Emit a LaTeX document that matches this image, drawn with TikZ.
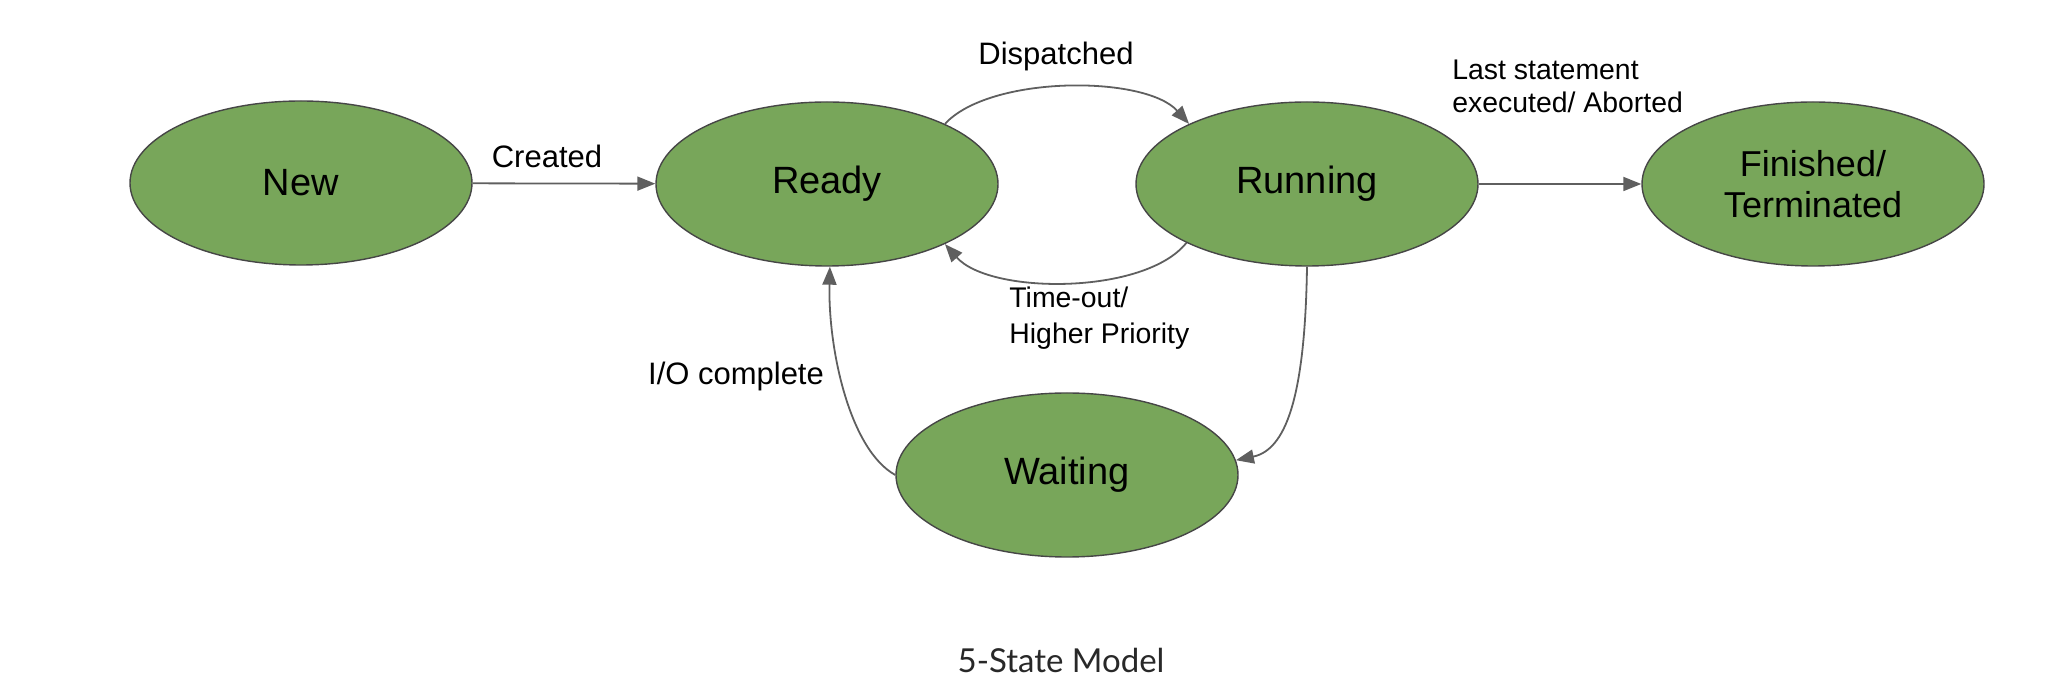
\documentclass[tikz,border=0pt]{standalone}
\usepackage{fontspec}
\setmainfont{Liberation Sans}
\newfontfamily\titlefont{Lato}
\usetikzlibrary{arrows.meta,shapes.geometric}
\definecolor{stategreen}{RGB}{120,166,90}
\definecolor{stateborder}{RGB}{70,70,70}
\definecolor{edgegray}{RGB}{95,95,95}
\definecolor{titlegray}{RGB}{40,40,40}
\begin{document}
\begin{tikzpicture}[x=0.5pt,y=-0.5pt,
  state/.style={ellipse, draw=stateborder, line width=0.7pt, fill=stategreen,
    minimum width=171pt, minimum height=82pt, inner sep=0pt,
    font=\fontsize{19}{20}\selectfont, align=center},
  conn/.style={draw=edgegray, line width=0.9pt, -{Triangle[length=9pt,width=7pt]}},
  lbl/.style={font=\fontsize{15.5}{17.5}\selectfont, inner sep=0pt, align=left},
  smalllbl/.style={inner sep=0pt, align=left, anchor=west}
]
\useasboundingbox (0,0) rectangle (2052,699);

\node[state] (new) at (301,183) {New};
\node[state] (ready) at (827,184) {Ready};
\node[state] (running) at (1307,184) {Running};
\node[state, font=\fontsize{18}{20.5}\selectfont] (finished) at (1813,184) {Finished/\\Terminated};
\node[state] (waiting) at (1067,475) {Waiting};

\draw[conn] (new) -- (ready);
\draw[conn] (ready.27) .. controls (990,75) and (1145,75) .. (running.153);
\draw[conn] (running.206) .. controls (1145,295) and (990,295) .. (ready.-27);
\draw[conn] (running) -- (finished);
\draw[conn] (running.south) .. controls (1305,400) and (1285,450) .. (waiting.5);
\draw[conn] (waiting.west) .. controls (850,450) and (828,350) .. (ready.-88);

\node[lbl] (lcreated) at (547,156) {Created};
\node[lbl] (ldispatched) at (1056,56) {Dispatched};
\node[smalllbl, font=\fontsize{14.2}{16.5}\selectfont] (llast) at (1452,86) {Last statement\\executed/ Aborted};
\node[smalllbl, font=\fontsize{14.2}{18}\selectfont] (ltimeout) at (1009,318) {Time-out/\\Higher Priority};
\node[lbl] (lio) at (736,376) {I/O complete};
\node[font=\titlefont\fontsize{16.5}{18}\selectfont, text=titlegray] (title) at (1061,660) {5-State Model};
\end{tikzpicture}
\end{document}
